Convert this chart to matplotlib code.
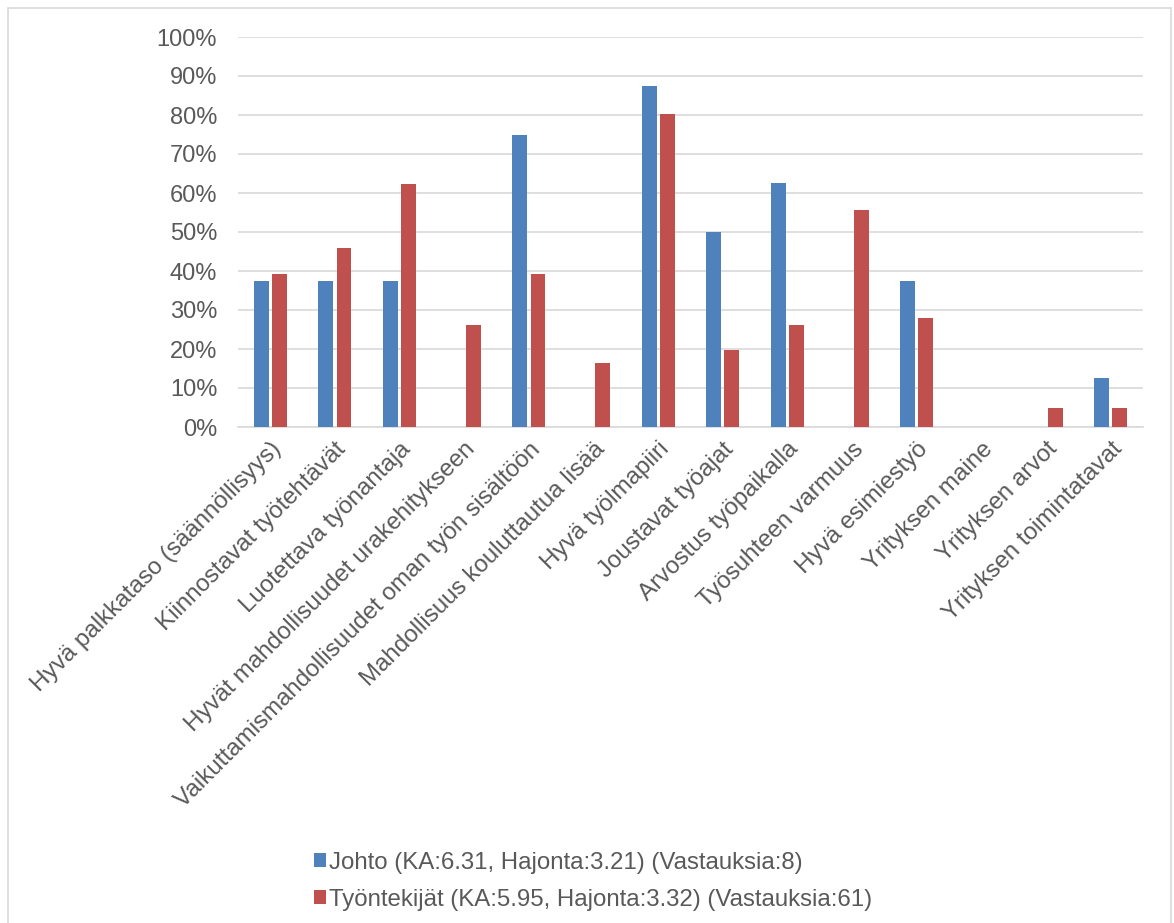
import matplotlib
matplotlib.use("Agg")
import matplotlib.pyplot as plt
import numpy as np
from matplotlib.patches import Rectangle
from matplotlib.ticker import PercentFormatter

categories = [
    "Hyvä palkkataso (säännöllisyys)",
    "Kiinnostavat työtehtävät",
    "Luotettava työnantaja",
    "Hyvät mahdollisuudet urakehitykseen",
    "Vaikuttamismahdollisuudet oman työn sisältöön",
    "Mahdollisuus kouluttautua lisää",
    "Hyvä työlmapiiri",
    "Joustavat työajat",
    "Arvostus työpaikalla",
    "Työsuhteen varmuus",
    "Hyvä esimiestyö",
    "Yrityksen maine",
    "Yrityksen arvot",
    "Yrityksen toimintatavat",
]
johto = [37.5, 37.5, 37.5, 0, 75.0, 0, 87.5, 50.0, 62.5, 0, 37.5, 0, 0, 12.5]
tyontekijat = [39.3, 45.9, 62.3, 26.2, 39.3, 16.4, 80.3, 19.7, 26.2, 55.7, 27.9, 0, 4.9, 4.9]
series_labels = [
    "Johto (KA:6.31, Hajonta:3.21) (Vastauksia:8)",
    "Työntekijät (KA:5.95, Hajonta:3.32) (Vastauksia:61)",
]
colors = ["#4F81BD", "#C0504D"]

plt.rcParams['font.family'] = ['Liberation Sans', 'DejaVu Sans']
W, H = 1174, 923
fig = plt.figure(figsize=(W / 100, H / 100), dpi=100)
fig.patches.append(Rectangle((8 / W, -0.01), (1171 - 8) / W, 1 - 8 / H + 0.01,
                             transform=fig.transFigure, fill=False,
                             edgecolor="#D9D9D9", linewidth=1.2))

ax = fig.add_axes([238 / W, 1 - 427 / H, (1143 - 238) / W, (427 - 37) / H])
x = np.arange(len(categories))
bw = 0.23
off = 0.14
ax.bar(x - off, johto, bw, color=colors[0], label=series_labels[0], zorder=3)
ax.bar(x + off, tyontekijat, bw, color=colors[1], label=series_labels[1], zorder=3)

ax.set_xlim(-0.5, len(categories) - 0.5)
ax.set_ylim(0, 100)
ax.set_yticks(np.arange(0, 101, 10))
ax.yaxis.set_major_formatter(PercentFormatter(decimals=0))
ax.grid(axis="y", color="#D9D9D9", linewidth=1.2, zorder=0)
for s in ["top", "right", "left"]:
    ax.spines[s].set_visible(False)
ax.spines["bottom"].set_color("#D9D9D9")
ax.spines["bottom"].set_linewidth(1.2)
ax.tick_params(axis="both", length=0, colors="#595959", labelsize=17)
ax.tick_params(axis="y", pad=15)
ax.set_xticks(x)
ax.set_xticklabels(categories, rotation=45, ha="right", rotation_mode="anchor",
                   fontsize=17.4, color="#595959")
ax.tick_params(axis="x", pad=8)

handles, labels = ax.get_legend_handles_labels()
fig.legend(handles, labels, loc="upper left", bbox_to_anchor=(292 / W, 1 - 830 / H),
           ncol=1, frameon=False, fontsize=17.3, handlelength=0.5, handleheight=0.5,
           handletextpad=0.15, labelspacing=0.62, labelcolor="#595959")

fig.savefig("out.png", dpi=100)
